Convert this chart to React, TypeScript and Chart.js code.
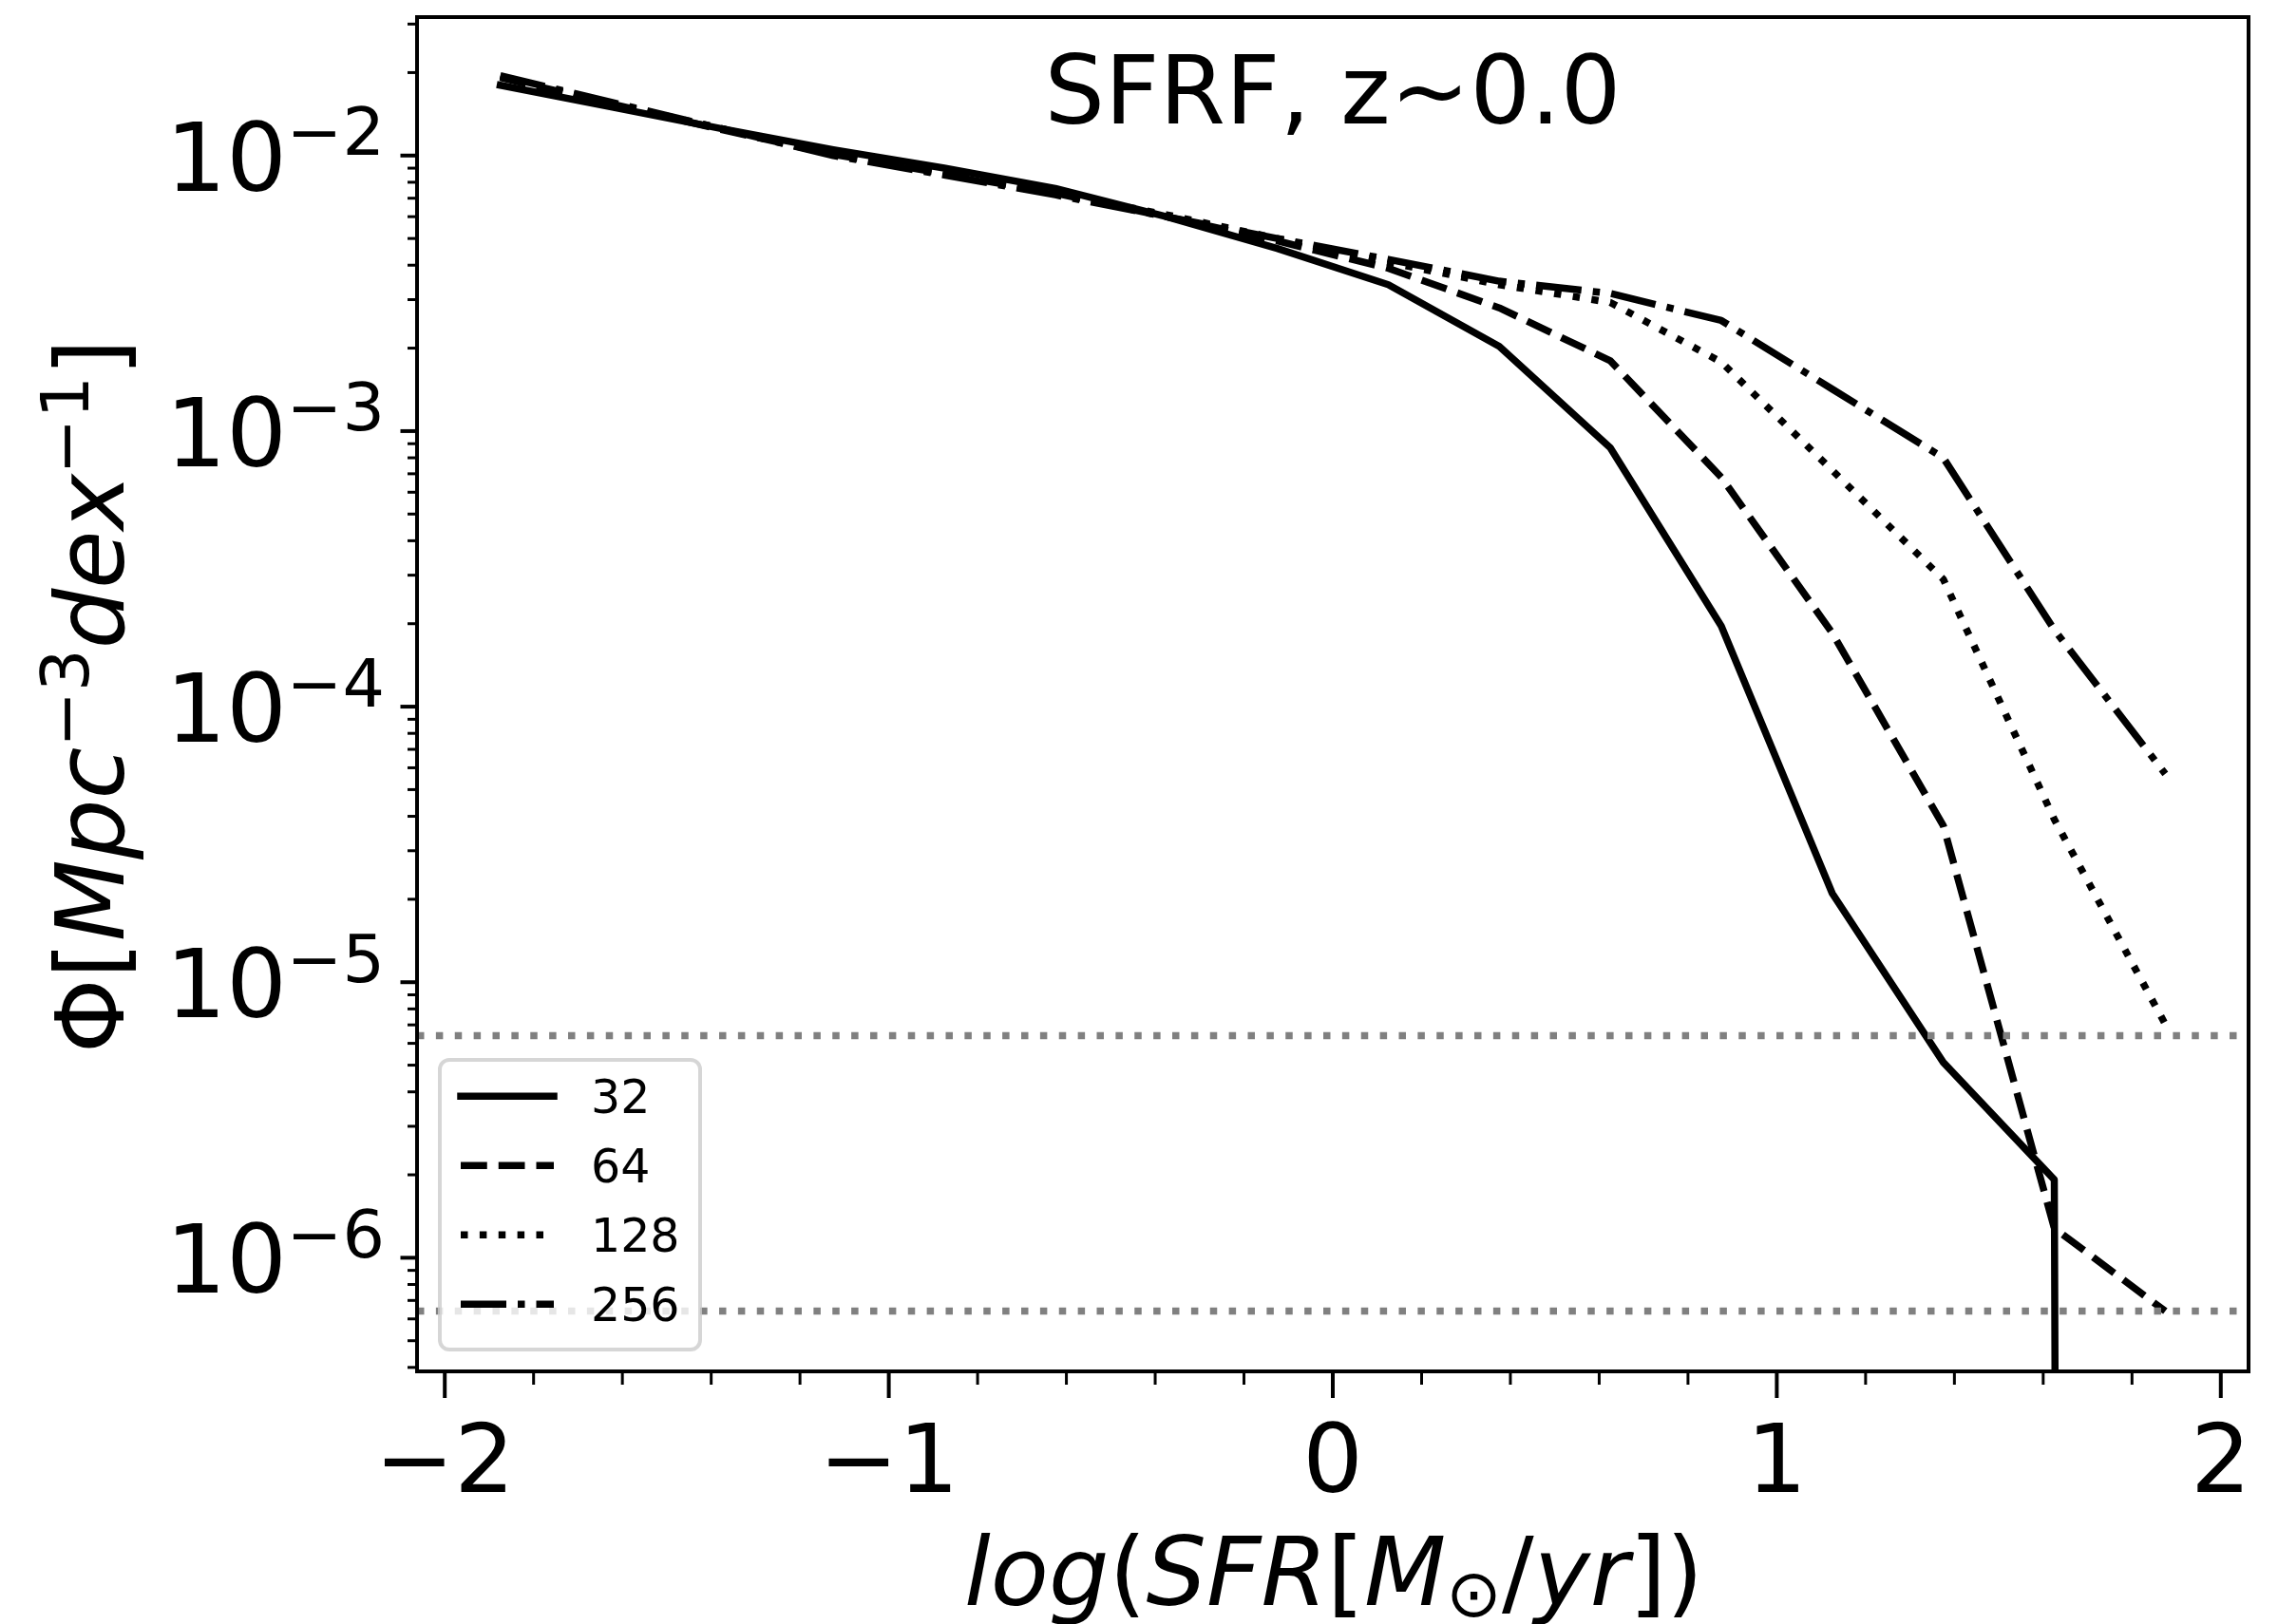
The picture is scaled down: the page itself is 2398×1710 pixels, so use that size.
import React, { useEffect, useRef } from 'react';
import { Chart, registerables } from 'chart.js';

Chart.register(...registerables);

// ---------------- data ----------------
const SFR_BINS = [-1.875, -1.625, -1.375, -1.125, -0.875, -0.625, -0.375, -0.125, 0.125, 0.375, 0.625, 0.875, 1.125, 1.375, 1.625, 1.875];
const PHI_32 = [1.8e-2, 1.5e-2, 1.25e-2, 1.05e-2, 9.0e-3, 7.6e-3, 6.0e-3, 4.6e-3, 3.4e-3, 2.03e-3, 8.7e-4, 1.96e-4, 2.1e-5, 5.12e-6, 1.92e-6, 0];
const PHI_64 = [1.92e-2, 1.54e-2, 1.24e-2, 1.01e-2, 8.6e-3, 7.3e-3, 6.0e-3, 4.9e-3, 3.9e-3, 2.8e-3, 1.8e-3, 6.8e-4, 1.85e-4, 3.7e-5, 1.28e-6, 6.4e-7];
const PHI_128 = [1.93e-2, 1.55e-2, 1.25e-2, 1.01e-2, 8.6e-3, 7.3e-3, 6.1e-3, 5.0e-3, 4.1e-3, 3.4e-3, 2.93e-3, 1.78e-3, 7.2e-4, 2.9e-4, 3.9e-5, 7.04e-6];
const PHI_256 = [1.95e-2, 1.56e-2, 1.25e-2, 1.0e-2, 8.5e-3, 7.2e-3, 6.0e-3, 5.0e-3, 4.2e-3, 3.5e-3, 3.16e-3, 2.52e-3, 1.42e-3, 8.0e-4, 1.9e-4, 5.7e-5];
const SERIES_LABELS = ['32', '64', '128', '256'];
const LIMIT_LINES = [6.4e-6, 6.4e-7];
const X_RANGE = [-2.0625, 2.0625];
const Y_RANGE = [3.87e-7, 3.18e-2];
const X_MAJOR_TICKS = [-2, -1, 0, 1, 2];
const X_TICK_LABELS = ['\u22122', '\u22121', '0', '1', '2'];
const Y_DECADES = [-6, -5, -4, -3, -2];
const Y_TICK_EXPONENTS = ['\u22126', '\u22125', '\u22124', '\u22123', '\u22122'];
const TITLE = 'SFRF, z~0.0';

// ---------------- styles ----------------
const FONT = '"DejaVu Sans"';
const LW = 7.5;
const DASHES: number[][] = [[], [3.7 * LW, 1.6 * LW], [1 * LW, 1.65 * LW], [6.4 * LW, 1.6 * LW, 1 * LW, 1.6 * LW]];

type Seg = { t: string; it?: boolean; sup?: boolean; sub?: boolean };

function segFont(s: Seg, size: number) {
  const sz = s.sup || s.sub ? size * 0.7 : size;
  return `${s.it ? 'italic ' : ''}${sz}px ${FONT}`;
}
function measureMath(ctx: CanvasRenderingContext2D, segs: Seg[], size: number) {
  let w = 0;
  for (const s of segs) {
    ctx.font = segFont(s, size);
    w += ctx.measureText(s.t).width;
  }
  return w;
}
function drawMath(ctx: CanvasRenderingContext2D, segs: Seg[], x: number, y: number, size: number, align: 'left' | 'center' | 'right') {
  const w = measureMath(ctx, segs, size);
  let cx = align === 'left' ? x : align === 'center' ? x - w / 2 : x - w;
  ctx.textAlign = 'left';
  ctx.textBaseline = 'alphabetic';
  for (const s of segs) {
    ctx.font = segFont(s, size);
    const dy = s.sup ? -0.375 * size : s.sub ? 0.12 * size : 0;
    ctx.fillText(s.t, cx, y + dy);
    cx += ctx.measureText(s.t).width;
  }
}

const Y_LABEL: Seg[] = [
  { t: '\u03A6' }, { t: '[' }, { t: 'Mpc', it: true }, { t: '\u22123', sup: true },
  { t: 'dex', it: true }, { t: '\u22121', sup: true }, { t: ']' },
];
const X_LABEL: Seg[] = [
  { t: 'log', it: true }, { t: '(' }, { t: 'SFR', it: true }, { t: '[' }, { t: 'M', it: true },
  { t: '\u2299', sub: true }, { t: '/' }, { t: 'yr', it: true }, { t: '])' },
];

const decorPlugin = {
  id: 'mplDecor',
  beforeDraw(chart: any) {
    const { ctx, width, height } = chart;
    ctx.save();
    ctx.fillStyle = '#ffffff';
    ctx.fillRect(0, 0, width, height);
    ctx.restore();
  },
  afterDatasetsDraw(chart: any) {
    const { ctx, chartArea: a } = chart;
    const x = chart.scales.x;
    const y = chart.scales.y;
    ctx.save();
    ctx.strokeStyle = '#000';
    ctx.setLineDash([]);
    ctx.lineCap = 'butt';
    for (const t of x.ticks) {
      const px = x.getPixelForValue(t.value);
      ctx.lineWidth = t.major ? 4 : 3;
      const len = t.major ? 28 : 14;
      ctx.beginPath();
      ctx.moveTo(px, a.bottom);
      ctx.lineTo(px, a.bottom + len);
      ctx.stroke();
    }
    for (const t of y.ticks) {
      const py = y.getPixelForValue(t.value);
      ctx.lineWidth = t.major ? 4 : 3;
      const len = t.major ? 17.5 : 10;
      ctx.beginPath();
      ctx.moveTo(a.left, py);
      ctx.lineTo(a.left - len, py);
      ctx.stroke();
    }
    ctx.lineWidth = 4;
    ctx.lineJoin = 'miter';
    ctx.strokeRect(a.left, a.top, a.right - a.left, a.bottom - a.top);
    ctx.restore();
  },
  afterDraw(chart: any) {
    const { ctx, chartArea: a } = chart;
    const x = chart.scales.x;
    const y = chart.scales.y;
    ctx.save();
    ctx.fillStyle = '#000';
    // x tick labels
    ctx.font = `100px ${FONT}`;
    ctx.textAlign = 'center';
    ctx.textBaseline = 'alphabetic';
    X_MAJOR_TICKS.forEach((v, i) => {
      ctx.fillText(X_TICK_LABELS[i], x.getPixelForValue(v), a.bottom + 127);
    });
    // y tick labels
    Y_DECADES.forEach((d, i) => {
      const py = y.getPixelForValue(Math.pow(10, d));
      drawMath(ctx, [{ t: '10' }, { t: Y_TICK_EXPONENTS[i], sup: true }], a.left - 34, py + 37, 100, 'right');
    });
    // title
    ctx.font = `100px ${FONT}`;
    ctx.textAlign = 'center';
    ctx.fillText(TITLE, (a.left + a.right) / 2, a.top + 111.5);
    // x label
    drawMath(ctx, X_LABEL, (a.left + a.right) / 2 + 1, 1690, 100, 'center');
    // y label
    ctx.save();
    ctx.translate(130, (a.top + a.bottom) / 2 + 2);
    ctx.rotate(-Math.PI / 2);
    drawMath(ctx, Y_LABEL, 0, 0, 100, 'center');
    ctx.restore();

    // legend
    const bl = a.left + 24;
    const bb = a.bottom - 23;
    const bw = 274;
    const bh = 305;
    const bt = bb - bh;
    ctx.beginPath();
    ctx.roundRect(bl, bt, bw, bh, 10);
    ctx.fillStyle = 'rgba(255,255,255,0.8)';
    ctx.fill();
    ctx.lineWidth = 4;
    ctx.strokeStyle = 'rgba(204,204,204,0.8)';
    ctx.stroke();
    const sets = chart.data.datasets.filter((d: any) => SERIES_LABELS.includes(d.label));
    sets.forEach((ds: any, i: number) => {
      const ly = bt + 38.3 + i * 73;
      ctx.strokeStyle = ds.borderColor;
      ctx.lineWidth = ds.borderWidth;
      ctx.setLineDash(ds.borderDash || []);
      ctx.lineDashOffset = 0;
      ctx.lineCap = ds.borderCapStyle || 'butt';
      ctx.beginPath();
      ctx.moveTo(bl + 22, ly);
      ctx.lineTo(bl + 120, ly);
      ctx.stroke();
      ctx.setLineDash([]);
      ctx.fillStyle = '#000';
      ctx.font = `49px ${FONT}`;
      ctx.textAlign = 'left';
      ctx.textBaseline = 'alphabetic';
      ctx.fillText(ds.label, bl + 159, ly + 17.5);
    });
    ctx.restore();
  },
};

const clipNonPositive = (v: number) => (v > 0 ? v : 1e-300);

export default function App() {
  const ref = useRef<HTMLCanvasElement | null>(null);
  useEffect(() => {
    if (!ref.current) return;
    const series = [PHI_32, PHI_64, PHI_128, PHI_256];
    const dataSets: any[] = series.map((vals, i) => ({
      label: SERIES_LABELS[i],
      data: SFR_BINS.map((xv, j) => ({ x: xv, y: clipNonPositive(vals[j]) })),
      borderColor: '#000000',
      borderWidth: LW,
      borderDash: DASHES[i],
      borderCapStyle: i === 0 ? 'square' : 'butt',
      borderJoinStyle: 'round',
      pointRadius: 0,
      tension: 0,
      fill: false,
      clip: 0,
      order: 5 - i,
    }));
    LIMIT_LINES.forEach((v) => {
      dataSets.push({
        label: '',
        data: [{ x: X_RANGE[0], y: v }, { x: X_RANGE[1], y: v }],
        borderColor: '#808080',
        borderWidth: LW,
        borderDash: [1 * LW, 1.65 * LW],
        borderCapStyle: 'butt',
        pointRadius: 0,
        tension: 0,
        fill: false,
        clip: 0,
        order: 0,
      });
    });
    const chart = new Chart(ref.current, {
      type: 'line',
      data: { datasets: dataSets },
      options: {
        animation: false,
        responsive: true,
        maintainAspectRatio: false,
        devicePixelRatio: 1,
        events: [],
        layout: { padding: { top: 18, right: 31, left: 0, bottom: 0 } },
        plugins: { legend: { display: false }, tooltip: { enabled: false }, title: { display: false } },
        scales: {
          x: {
            type: 'linear',
            min: X_RANGE[0],
            max: X_RANGE[1],
            grid: { display: false },
            border: { display: false },
            ticks: { display: false, autoSkip: false },
            afterBuildTicks: (scale: any) => {
              const t: any[] = [];
              for (let k = -10; k <= 10; k++) {
                const v = k / 5;
                if (v >= scale.min && v <= scale.max) t.push({ value: v, major: k % 5 === 0 });
              }
              scale.ticks = t;
            },
            afterFit: (scale: any) => {
              scale.height = 266;
            },
          },
          y: {
            type: 'logarithmic',
            min: Y_RANGE[0],
            max: Y_RANGE[1],
            grid: { display: false },
            border: { display: false },
            ticks: { display: false, autoSkip: false },
            afterBuildTicks: (scale: any) => {
              const t: any[] = [];
              for (let e = -8; e <= 0; e++) {
                for (let m = 1; m <= 9; m++) {
                  const v = m * Math.pow(10, e);
                  if (v >= scale.min && v <= scale.max) t.push({ value: v, major: m === 1 });
                }
              }
              scale.ticks = t;
            },
            afterFit: (scale: any) => {
              scale.width = 439;
            },
          },
        },
      },
      plugins: [decorPlugin],
    } as any);
    return () => chart.destroy();
  }, []);
  return (
    <div style={{ position: 'fixed', left: 0, top: 0, width: '2398px', height: '1710px', background: '#fff' }}>
      <canvas ref={ref} />
    </div>
  );
}
